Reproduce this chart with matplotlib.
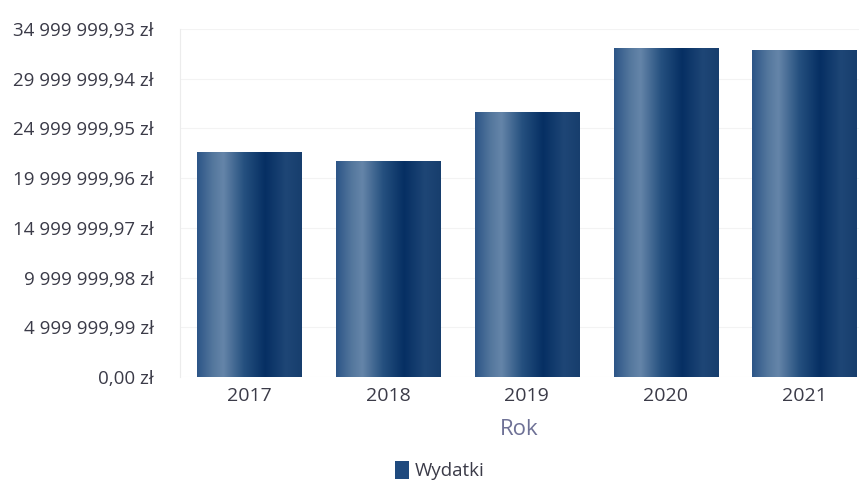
import numpy as np
import matplotlib
matplotlib.use("Agg")
import matplotlib.pyplot as plt
from matplotlib.colors import LinearSegmentedColormap
from matplotlib.patches import Patch

plt.rcParams['font.family'] = ['Open Sans', 'DejaVu Sans']

# data
years = ['2017', '2018', '2019', '2020', '2021']
wydatki = [22600000, 21700000, 26650000, 33100000, 32900000]
tick_vals = [0.0, 4999999.99, 9999999.98, 14999999.97, 19999999.96,
             24999999.95, 29999999.94, 34999999.93]
tick_labels = ['0,00 zł', '4 999 999,99 zł', '9 999 999,98 zł', '14 999 999,97 zł',
               '19 999 999,96 zł', '24 999 999,95 zł', '29 999 999,94 zł',
               '34 999 999,93 zł']

# bar gradient (left -> right)
grad = LinearSegmentedColormap.from_list('bar', [
    (0.00, '#2c5587'),
    (0.15, '#54779d'),
    (0.25, '#6585a9'),
    (0.45, '#25507f'),
    (0.65, '#062f63'),
    (0.85, '#1e4676'),
    (1.00, '#173e6d'),
])

fig = plt.figure(figsize=(8.59, 4.84), dpi=100)
ax = fig.add_axes([0.2095, 0.221, 0.7905, 0.719])

x = np.arange(len(years))
bars = ax.bar(x, wydatki, width=0.75, color='#1f4a7e', zorder=2)
g = np.linspace(0, 1, 256).reshape(1, -1)
for b in bars:
    x0, y0 = b.get_x(), b.get_y()
    w, h = b.get_width(), b.get_height()
    im = ax.imshow(g, cmap=grad, aspect='auto', extent=[x0, x0 + w, y0, y0 + h],
                   zorder=3, interpolation='bicubic')
    im.set_clip_path(b)

ax.set_xlim(-0.5, 4.394)
ax.set_ylim(0, 34999999.93)
ax.set_xticks(x)
ax.set_xticklabels(years)
ax.set_yticks(tick_vals)
ax.set_yticklabels(tick_labels)
ax.tick_params(axis='y', length=0, pad=19, labelsize=13.5, labelcolor='#3b3b48')
ax.tick_params(axis='x', length=0, pad=7, labelsize=14, labelcolor='#3b3b48')
ax.grid(axis='y', color='#f3f3f3', linewidth=0.8, zorder=0)
for s in ['top', 'right', 'bottom']:
    ax.spines[s].set_visible(False)
ax.spines['left'].set_color('#ececec')
ax.set_xlabel('Rok', fontsize=16, color='#6e7196', labelpad=10)

handle = Patch(facecolor='#1f4a7e', edgecolor='none')
fig.legend([handle], ['Wydatki'], loc='center', bbox_to_anchor=(0.512, 0.028),
           frameon=False, fontsize=13.5, handlelength=0.75, handleheight=1.1,
           handletextpad=0.3, labelcolor='#3b3b48')

fig.savefig('out.png', dpi=100)
